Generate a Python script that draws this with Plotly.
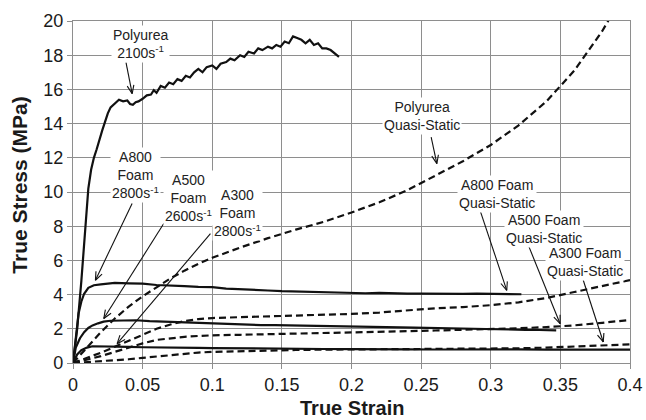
import math
import plotly.graph_objects as go

# ---------------- data ----------------
poly_dyn_x = [0, 0.003, 0.006, 0.009, 0.011, 0.013, 0.015, 0.017, 0.019, 0.021, 0.023, 0.025, 0.027,
              0.030, 0.033, 0.036, 0.039, 0.041, 0.043, 0.045, 0.047, 0.050, 0.053, 0.056, 0.058,
              0.060, 0.063, 0.066, 0.069, 0.072, 0.075, 0.078, 0.081, 0.084, 0.087, 0.090, 0.093,
              0.096, 0.100, 0.103, 0.106, 0.110, 0.113, 0.116, 0.120, 0.123, 0.126, 0.130, 0.133,
              0.136, 0.140, 0.143, 0.146, 0.149, 0.152, 0.155, 0.158, 0.161, 0.164, 0.167, 0.170,
              0.173, 0.176, 0.179, 0.182, 0.185, 0.188, 0.191]
poly_dyn_y = [0, 2.0, 4.8, 8.0, 10.2, 11.3, 12.0, 12.5, 13.1, 13.6, 14.1, 14.6, 14.95,
              15.2, 15.4, 15.3, 15.35, 15.15, 15.1, 15.25, 15.3, 15.45, 15.65, 15.7, 15.95,
              15.8, 16.2, 16.1, 16.4, 16.3, 16.6, 16.5, 16.8, 16.7, 17.0, 17.2, 17.0,
              17.3, 17.4, 17.2, 17.5, 17.6, 17.8, 17.7, 18.0, 17.9, 18.2, 18.1, 18.4,
              18.3, 18.5, 18.4, 18.6, 18.5, 18.8, 18.7, 19.1, 19.0, 18.9, 18.7, 18.9,
              18.6, 18.7, 18.4, 18.4, 18.3, 18.1, 17.9]

a800_dyn_x = [0, 0.002, 0.004, 0.006, 0.008, 0.011, 0.015, 0.02, 0.03, 0.04, 0.05, 0.06, 0.07, 0.08,
              0.09, 0.1, 0.11, 0.12, 0.13, 0.14, 0.15, 0.16, 0.17, 0.18, 0.19, 0.2, 0.21, 0.22,
              0.23, 0.24, 0.25, 0.26, 0.27, 0.28, 0.29, 0.3, 0.31, 0.322]
a800_dyn_y = [0, 1.6, 2.9, 3.6, 4.05, 4.4, 4.55, 4.6, 4.68, 4.66, 4.64, 4.56, 4.55, 4.5,
              4.45, 4.44, 4.35, 4.3, 4.27, 4.24, 4.2, 4.18, 4.15, 4.12, 4.1, 4.1, 4.08, 4.1,
              4.07, 4.06, 4.06, 4.04, 4.06, 4.04, 4.06, 4.05, 4.03, 4.02]

a500_dyn_x = [0, 0.002, 0.005, 0.008, 0.011, 0.014, 0.018, 0.022, 0.027, 0.035, 0.045, 0.055, 0.065,
              0.075, 0.085, 0.095, 0.105, 0.115, 0.125, 0.135, 0.145, 0.155, 0.165, 0.175, 0.185,
              0.195, 0.205, 0.215, 0.225, 0.235, 0.245, 0.255, 0.265, 0.275, 0.285, 0.295, 0.305,
              0.315, 0.325, 0.335, 0.347]
a500_dyn_y = [0, 0.9, 1.45, 1.8, 2.05, 2.2, 2.32, 2.42, 2.47, 2.5, 2.5, 2.45, 2.42,
              2.4, 2.35, 2.33, 2.32, 2.3, 2.26, 2.22, 2.22, 2.2, 2.18, 2.16, 2.15,
              2.15, 2.14, 2.12, 2.1, 2.08, 2.07, 2.05, 2.03, 2.0, 1.99, 1.98, 1.96,
              1.95, 1.94, 1.93, 1.91]

a300_dyn_x = [0, 0.003, 0.006, 0.01, 0.014, 0.02, 0.03, 0.04, 0.05, 0.06, 0.07, 0.08, 0.09, 0.1,
              0.12, 0.14, 0.16, 0.18, 0.2, 0.22, 0.24, 0.26, 0.28, 0.3, 0.32, 0.34, 0.36, 0.38, 0.4]
a300_dyn_y = [0, 0.5, 0.75, 0.9, 0.98, 0.98, 0.95, 0.94, 0.92, 0.92, 0.92, 0.9, 0.88, 0.87,
              0.85, 0.82, 0.8, 0.82, 0.81, 0.82, 0.8, 0.79, 0.8, 0.79, 0.8, 0.78, 0.78, 0.77, 0.78]

poly_qs_x = [0, 0.01, 0.02, 0.03, 0.04, 0.05, 0.06, 0.07, 0.08, 0.09, 0.1, 0.12, 0.14, 0.16, 0.18,
             0.2, 0.22, 0.24, 0.26, 0.28, 0.3, 0.32, 0.34, 0.36, 0.38, 0.385]
poly_qs_y = [0, 0.9, 1.8, 2.6, 3.3, 3.9, 4.45, 4.95, 5.4, 5.8, 6.15, 6.75, 7.3, 7.8, 8.25,
             8.8, 9.4, 10.1, 10.95, 11.8, 12.75, 13.9, 15.3, 17.1, 19.4, 20.1]

qs_x = [0, 0.01, 0.02, 0.03, 0.04, 0.05, 0.06, 0.07, 0.08, 0.09, 0.1, 0.12, 0.14, 0.16, 0.18,
        0.2, 0.22, 0.24, 0.26, 0.28, 0.3, 0.32, 0.34, 0.36, 0.38, 0.4]
a800_qs_y = [0, 0.3, 0.6, 0.95, 1.3, 1.65, 2.0, 2.25, 2.45, 2.57, 2.63, 2.68, 2.72, 2.76, 2.81,
             2.87, 2.95, 3.07, 3.2, 3.27, 3.38, 3.55, 3.8, 4.15, 4.5, 4.85]
a500_qs_y = [0, 0.2, 0.4, 0.65, 0.9, 1.15, 1.35, 1.45, 1.53, 1.58, 1.62, 1.65, 1.68, 1.7, 1.73,
             1.78, 1.82, 1.86, 1.9, 1.93, 1.97, 2.03, 2.1, 2.2, 2.35, 2.52]
a300_qs_y = [0, 0.05, 0.1, 0.16, 0.22, 0.3, 0.38, 0.47, 0.55, 0.61, 0.65, 0.7, 0.74, 0.76, 0.78,
             0.79, 0.8, 0.8, 0.81, 0.82, 0.84, 0.86, 0.9, 0.95, 1.01, 1.09]

x_ticks = [0, 0.05, 0.1, 0.15, 0.2, 0.25, 0.3, 0.35, 0.4]
x_tick_labels = ["0", "0.05", "0.1", "0.15", "0.2", "0.25", "0.3", "0.35", "0.4"]
y_ticks = [0, 2, 4, 6, 8, 10, 12, 14, 16, 18, 20]

labels = ["Polyurea<br>2100s<sup>-1</sup>", "A800<br>Foam<br>2800s<sup>-1</sup>",
          "A500<br>Foam<br>2600s<sup>-1</sup>", "A300<br>Foam<br>2800s<sup>-1</sup>",
          "Polyurea<br>Quasi-Static", "A800 Foam<br>Quasi-Static",
          "A500 Foam<br>Quasi-Static", "A300 Foam<br>Quasi-Static"]
label_x = [0.0484, 0.0448, 0.0829, 0.118, 0.2507, 0.3044, 0.3383, 0.3679]
label_y = [18.65, 11.0, 9.65, 8.79, 14.44, 9.9, 7.86, 5.88]
# arrow tips (data) and tail offsets (screen pixels, y down)
tip_x = [0.0425, 0.0161, 0.0221, 0.0317, 0.2613, 0.3115, 0.3498, 0.3808]
tip_y = [15.75, 4.84, 2.6, 1.13, 11.66, 4.25, 2.3, 1.23]
tail_dx = [-6.2, 36.7, 60, 93.3, -5.7, -26.7, -31.7, -20]
tail_dy = [-31.3, -76.7, -95, -110, -26.6, -80, -78.3, -61.7]

# ---------------- figure ----------------
FONT = "Liberation Sans, Arial, sans-serif"
TXT = "#1a1a1a"
fig = go.Figure()

solid = dict(color="#111111", width=2.2)
dashed = dict(color="#111111", width=2.2, dash="7px,4px")

for xs, ys, ln in [
    (poly_qs_x, poly_qs_y, dashed),
    (qs_x, a800_qs_y, dashed),
    (qs_x, a500_qs_y, dashed),
    (qs_x, a300_qs_y, dashed),
    (poly_dyn_x, poly_dyn_y, solid),
    (a800_dyn_x, a800_dyn_y, solid),
    (a500_dyn_x, a500_dyn_y, solid),
    (a300_dyn_x, a300_dyn_y, solid),
]:
    fig.add_trace(go.Scatter(x=xs, y=ys, mode="lines", line=ln, showlegend=False,
                             hoverinfo="skip"))

annotations = []
# lower labels first so the white box of an upper label never hides the text below it
for t, lx, ly in sorted(zip(labels, label_x, label_y), key=lambda r: r[2]):
    annotations.append(dict(x=lx, y=ly, xref="x", yref="y", text=t, showarrow=False,
                            font=dict(family=FONT, size=14, color="#222222"),
                            bgcolor="white", borderpad=1, align="center"))

annotations.append(dict(x=0.5, y=-0.133, xref="paper", yref="paper", text="<b>True Strain</b>",
                        showarrow=False, xanchor="center", yanchor="middle",
                        font=dict(family=FONT, size=20, color=TXT)))
annotations.append(dict(x=-0.096, y=0.52, xref="paper", yref="paper",
                        text="<b>True Stress (MPa)</b>", textangle=-90,
                        showarrow=False, xanchor="center", yanchor="middle",
                        font=dict(family=FONT, size=21, color=TXT)))

shapes = []
HEAD = 9
ANG = math.radians(22)
arrow_line = dict(color="#111111", width=1.1)
for tx, ty, dx, dy in zip(tip_x, tip_y, tail_dx, tail_dy):
    shapes.append(dict(type="line", xref="x", yref="y", xsizemode="pixel", ysizemode="pixel",
                       xanchor=tx, yanchor=ty, x0=0, y0=0, x1=dx, y1=-dy, line=arrow_line))
    L = math.hypot(dx, dy)
    ux, uy = dx / L, dy / L
    for s in (1, -1):
        c, sn = math.cos(s * ANG), math.sin(s * ANG)
        wx = (ux * c - uy * sn) * HEAD
        wy = (ux * sn + uy * c) * HEAD
        shapes.append(dict(type="line", xref="x", yref="y", xsizemode="pixel", ysizemode="pixel",
                           xanchor=tx, yanchor=ty, x0=0, y0=0, x1=wx, y1=-wy, line=arrow_line))

grid = "#8e8e8e"
common = dict(showgrid=True, gridcolor=grid, gridwidth=1.3,
              showline=True, linecolor=grid, linewidth=1.3, mirror=True,
              ticks="outside", ticklen=5, tickcolor=grid, tickwidth=1.3,
              tickfont=dict(size=18, family=FONT, color=TXT),
              zeroline=False, automargin=False)
fig.update_layout(
    width=646, height=420,
    margin=dict(l=73, r=16, t=21, b=57),
    paper_bgcolor="white", plot_bgcolor="white",
    font=dict(family=FONT, color=TXT),
    annotations=annotations,
    shapes=shapes,
    xaxis=dict(range=[0, 0.4], tickvals=x_ticks, ticktext=x_tick_labels, **common),
    yaxis=dict(range=[0, 20], tickvals=y_ticks, **common),
)

fig.write_html("out.html", config={"displayModeBar": False},
               post_script="document.body.style.margin='0';document.body.style.padding='0';")
